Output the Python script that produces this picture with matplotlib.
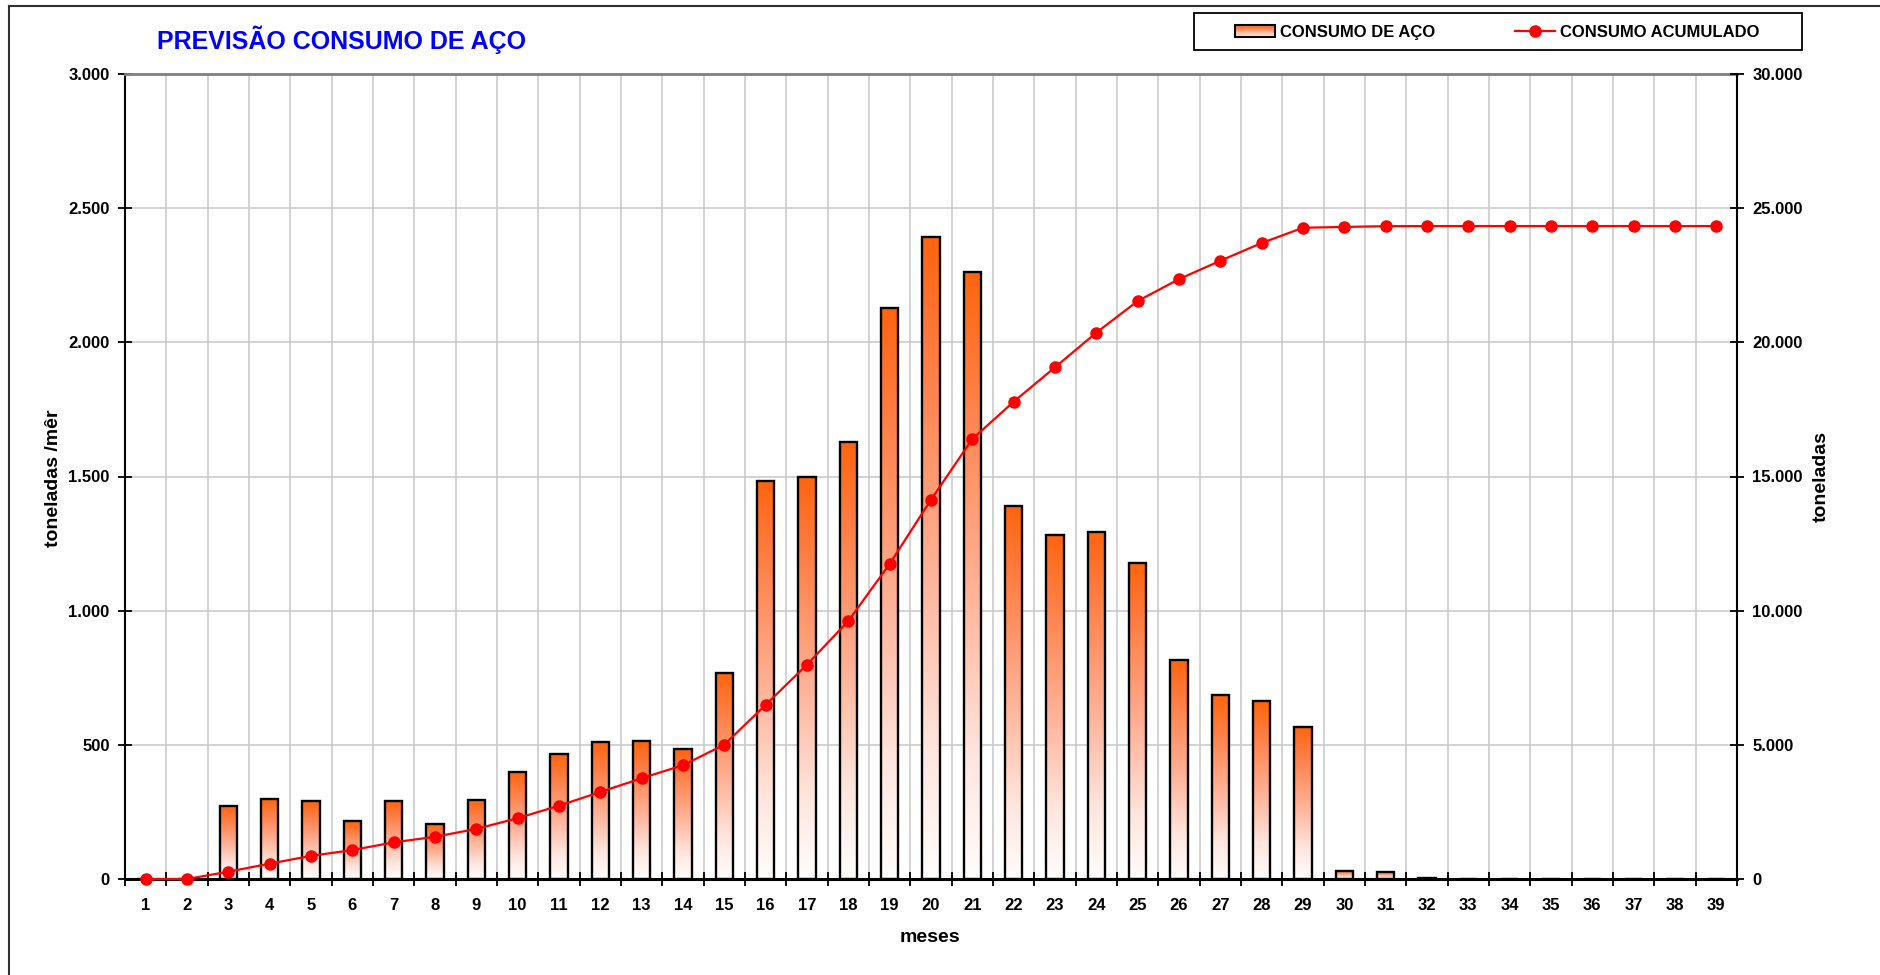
import numpy as np
import matplotlib
matplotlib.use("Agg")
import matplotlib.pyplot as plt
from matplotlib.colors import LinearSegmentedColormap
from matplotlib.patches import Rectangle
from matplotlib.lines import Line2D
from matplotlib.legend_handler import HandlerBase
from matplotlib.ticker import FuncFormatter

plt.rcParams['font.family'] = ['Liberation Sans', 'DejaVu Sans']
plt.rcParams['font.weight'] = 'bold'

# ---- data -------------------------------------------------------------
months = list(range(1, 40))
steel_monthly = [0, 0, 272, 300, 290, 215, 290, 205, 295, 400,
                 465, 510, 514, 483, 769, 1484, 1497, 1627, 2128, 2391,
                 2262, 1390, 1283, 1292, 1176, 818, 684, 662, 568, 31,
                 27, 5, 0, 0, 0, 0, 0, 0, 0]
steel_cumulative = [0, 0, 272, 572, 862, 1077, 1367, 1572, 1867, 2267,
                    2732, 3242, 3756, 4239, 5008, 6492, 7989, 9616, 11744, 14135,
                    16397, 17787, 19070, 20362, 21538, 22356, 23040, 23702, 24270, 24301,
                    24328, 24333, 24333, 24333, 24333, 24333, 24333, 24333, 24333]
left_ticks = [0, 500, 1000, 1500, 2000, 2500, 3000]
right_ticks = [0, 5000, 10000, 15000, 20000, 25000, 30000]

title = "PREVISÃO CONSUMO DE AÇO"
bar_label = "CONSUMO DE AÇO"
line_label = "CONSUMO ACUMULADO"

# ---- figure -----------------------------------------------------------
W, H = 1880, 975
fig = plt.figure(figsize=(W / 100, H / 100), dpi=100)
fig.patch.set_facecolor('white')

def fx(px):
    return px / W

def fy(py):
    return 1 - py / H

L, R, T, B = 125, 1737, 74, 879
ax = fig.add_axes([fx(L), fy(B), (R - L) / W, (B - T) / H])
ax2 = ax.twinx()

grad_cmap = LinearSegmentedColormap.from_list(
    "steel", [(0.0, "#FFFDFC"), (0.2, "#FFE6DE"), (0.5, "#FFAE92"),
              (0.8, "#FF7F45"), (1.0, "#FF6410")])

bar_w = 0.42
x = np.array(months, dtype=float)
vals = np.array(steel_monthly, dtype=float)
grad = np.linspace(0, 1, 256).reshape(-1, 1)

for xi, v in zip(x, vals):
    if v > 0:
        ax.imshow(grad, extent=(xi - bar_w / 2, xi + bar_w / 2, 0, v),
                  origin='lower', aspect='auto', cmap=grad_cmap,
                  interpolation='bilinear', zorder=2)
ax.bar(x, vals, width=bar_w, facecolor='none', edgecolor='black',
       linewidth=1.7, zorder=3)

ax2.plot(x, steel_cumulative, color='#FF0000', lw=1.6, marker='o',
         markersize=8, markerfacecolor='#FF0000', markeredgecolor='#FF0000',
         clip_on=False, zorder=5)

ax.set_xlim(0.5, 39.5)
ax.set_ylim(0, 3000)
ax2.set_ylim(0, 30000)

# x axis: labels at month centres, tick marks at boundaries
ax.set_xticks(x)
ax.set_xticklabels([str(m) for m in months])
ax.set_xticks(np.arange(0.5, 40.0, 1.0), minor=True)
ax.tick_params(axis='x', which='major', length=0, pad=14, labelsize=12)
ax.tick_params(axis='x', which='minor', direction='inout', length=10,
               width=1.3, color='black')

thousands = FuncFormatter(lambda v, p: f"{int(v):,}".replace(",", "."))
ax.set_yticks(left_ticks)
ax.yaxis.set_major_formatter(thousands)
ax.tick_params(axis='y', direction='inout', length=10, width=1.3, labelsize=12, pad=6)
ax2.set_yticks(right_ticks)
ax2.yaxis.set_major_formatter(thousands)
ax2.tick_params(axis='y', direction='inout', length=10, width=1.3, labelsize=12, pad=6)
for lab in ax.get_xticklabels() + ax.get_yticklabels() + ax2.get_yticklabels():
    lab.set_fontweight('bold')

ax.set_axisbelow(True)
ax.grid(which='minor', axis='x', color='#C8C8C8', lw=1.1)
ax.grid(which='major', axis='y', color='#C8C8C8', lw=1.1)
ax.grid(which='major', axis='x', visible=False)

for s in ['left', 'bottom']:
    ax.spines[s].set_color('black')
ax.spines['left'].set_linewidth(1.5)
ax.spines['bottom'].set_linewidth(2.2)
ax.spines['top'].set_color('#808080')
ax.spines['top'].set_linewidth(2.0)
ax.spines['right'].set_visible(False)
ax2.spines['right'].set_color('black')
ax2.spines['right'].set_linewidth(1.5)
for s in ['left', 'bottom', 'top']:
    ax2.spines[s].set_visible(False)

# ---- texts ------------------------------------------------------------
fig.text(fx(157), fy(40), title, color='#0000FF', fontsize=18,
         fontweight='bold', ha='left', va='center')
fig.text(fx(54), fy(478), "toneladas /mêr", rotation=90, fontsize=14,
         fontweight='bold', ha='center', va='center')
fig.text(fx(1821), fy(477), "toneladas", rotation=90, fontsize=14,
         fontweight='bold', ha='center', va='center')
fig.text(fx(930), fy(937), "meses", fontsize=14, fontweight='bold',
         ha='center', va='center')

# ---- legend -----------------------------------------------------------
class GradientBarHandler(HandlerBase):
    def create_artists(self, legend, orig_handle, xdescent, ydescent,
                       width, height, fontsize, trans):
        n = 10
        arts = []
        for i in range(n):
            c = grad_cmap(1 - (i + 0.5) / n * 0.9)
            arts.append(Rectangle((-xdescent, -ydescent + height * (n - 1 - i) / n),
                                  width, height / n, facecolor=c,
                                  edgecolor='none', transform=trans))
        arts.append(Rectangle((-xdescent, -ydescent), width, height,
                              facecolor='none', edgecolor='black', lw=1.5,
                              transform=trans))
        return arts

bar_proxy = Rectangle((0, 0), 1, 1)
line_proxy = Line2D([], [], color='#FF0000', lw=1.6, marker='o', markersize=8)
fig.legend([bar_proxy, line_proxy], [bar_label, line_label],
           handler_map={Rectangle: GradientBarHandler()},
           loc='center left', bbox_to_anchor=(fx(1235), fy(32.5)),
           frameon=False, ncol=2, prop={'size': 12, 'weight': 'bold'},
           borderpad=0, borderaxespad=0, handlelength=2.4,
           handletextpad=0.3, columnspacing=4.8)
fig.add_artist(Rectangle((fx(1194), fy(50)), (1802 - 1194) / W, 37 / H,
                         transform=fig.transFigure, facecolor='none',
                         edgecolor='black', lw=1.3))

# outer chart frame
fig.add_artist(Line2D([fx(9), fx(9)], [0, fy(6)], transform=fig.transFigure,
                      color='#303030', lw=1.5))
fig.add_artist(Line2D([fx(9), 1], [fy(6), fy(6)], transform=fig.transFigure,
                      color='#303030', lw=1.5))

fig.savefig("out.png", dpi=100, facecolor='white')
